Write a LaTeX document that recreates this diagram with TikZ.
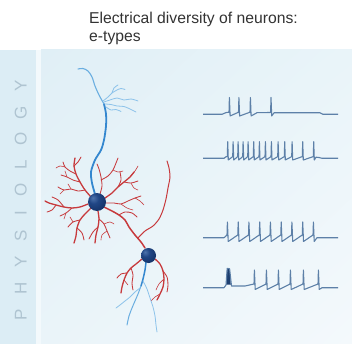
\documentclass[tikz,border=0pt]{standalone}
\usepackage{fontspec}
\setmainfont{Liberation Sans}
\usetikzlibrary{shadings}
\definecolor{bandblue}{HTML}{DCEDF5}
\definecolor{sepblue}{HTML}{F3F9FC}
\definecolor{panelA}{HTML}{E0EFF6}
\definecolor{panelB}{HTML}{E9F4F9}
\definecolor{panelC}{HTML}{EAF4F9}
\definecolor{panelD}{HTML}{F4F9FC}
\definecolor{lettergrey}{HTML}{AFC4D1}
\definecolor{titlegrey}{HTML}{333333}
\definecolor{tracecol}{HTML}{5D80A8}
\definecolor{spikedark}{HTML}{1E3F70}
\definecolor{dendred}{HTML}{C73A3D}
\definecolor{axonA}{HTML}{3487CF}
\definecolor{axonB}{HTML}{6AAEE0}
\definecolor{axonC}{HTML}{8CC2EA}
\definecolor{somahi}{HTML}{4F74AD}
\definecolor{somamid}{HTML}{214685}
\definecolor{somadark}{HTML}{102B5C}
\pgfdeclareradialshading{somaball}{\pgfpoint{-12bp}{12bp}}{color(0bp)=(somahi); color(14bp)=(somamid); color(40bp)=(somadark); color(70bp)=(somadark)}
\begin{document}
\begin{tikzpicture}[x=1pt,y=-1pt,
  trace/.style={draw=tracecol, line width=1.1pt, line join=round},
  dendA/.style={draw=dendred, line width=1.3pt, line cap=round, line join=round},
  dendB/.style={draw=dendred, line width=0.85pt, line cap=round, line join=round},
  twig/.style={draw=dendred, line width=0.6pt, line cap=round, line join=round},
  axonthick/.style={draw=axonA, line width=1.8pt, line cap=round, line join=round},
  axonmid/.style={draw=axonB, line width=1.1pt, line cap=round, line join=round},
  axonfine/.style={draw=axonC, line width=0.8pt, line cap=round, line join=round},
  soma/.style={circle, inner sep=0pt, shading=somaball},
  vletter/.style={rotate=90, text=lettergrey, font=\fontsize{17}{17}\selectfont, inner sep=0pt},
  titletext/.style={anchor=base west, text=titlegrey, font=\fontsize{15.7}{18}\selectfont, inner sep=0pt}]
\useasboundingbox (0,0) rectangle (352,344);

% backgrounds
\fill[white] (0,0) rectangle (352,344);
\fill[bandblue] (0,50) rectangle (36,344);
\fill[sepblue] (36,50) rectangle (41,344);
\shade[upper left=panelA, upper right=panelB, lower left=panelC, lower right=panelD] (41,50) rectangle (352,344);

% title
\node[titletext] (title1) at (89,24) {Electrical diversity of neurons:};
\node[titletext] (title2) at (89,41.7) {e-types};

% side label
\foreach \ch/\yy [count=\i] in {P/315,H/288.5,Y/262,S/236,I/213,O/190,L/165,O/139,G/112.5,Y/86}
  \node[vletter] (side\i) at (20.8,\yy) {\ch};

% ---- neuron 1: blue apical process ----
\draw[axonthick] plot[smooth] coordinates {(95,194) (92,183) (91,172) (95,160) (101,150) (104,140) (106,126) (106,114) (104,104)};
\draw[axonmid] plot[smooth] coordinates {(104,104) (99,95) (95,86) (92,77) (88,71) (83,68.5) (78,69)};
\draw[axonfine] plot[smooth] coordinates {(103,101) (108,97) (112,93) (117,90) (121,88.5) (125,89.5)};
\draw[axonfine] plot[smooth] coordinates {(104,102) (110,100) (117,98) (124,100) (131,99) (138,101)};
\draw[axonfine] plot[smooth] coordinates {(105,104) (111,104.5) (117,106) (124,106.5) (130,109) (136,112)};
\draw[axonfine] plot[smooth] coordinates {(106,107) (111,110) (116,109.5) (121,111.5)};
\draw[axonfine] plot[smooth] coordinates {(112,93) (114,88) (118,85)};

% ---- neuron 1: red dendrites ----
\draw[dendA] plot[smooth] coordinates {(91,197) (85,190) (80,182) (76,174) (74,166) (75,158)};
\draw[dendB] plot[smooth] coordinates {(80,182) (73,180) (67,177) (61,175)};
\draw[dendB] plot[smooth] coordinates {(76,174) (70,171) (65,167) (63,162)};
\draw[dendB] plot[smooth] coordinates {(74,166) (78,162) (81,157)};
\draw[dendB] plot[smooth] coordinates {(85,190) (78,191) (71,189) (64,190) (58,187)};
\draw[twig] plot[smooth] coordinates {(67,177) (65,171)};
\draw[twig] plot[smooth] coordinates {(71,189) (68,184)};
\draw[twig] plot[smooth] coordinates {(64,190) (60,194)};
\draw[twig] plot[smooth] coordinates {(65,167) (60,166) (56,168)};
\draw[dendB] plot[smooth] coordinates {(100,194) (102,186) (101,177) (99,169) (97,164)};
\draw[dendB] plot[smooth] coordinates {(101,180) (108,176) (113,170) (116,163) (118,158)};
\draw[twig] plot[smooth] coordinates {(113,170) (118,172) (123,171)};
\draw[dendA] plot[smooth] coordinates {(105,198) (112,193) (118,187) (124,182) (130,177) (134,172)};
\draw[dendB] plot[smooth] coordinates {(118,187) (121,180) (120,172)};
\draw[dendB] plot[smooth] coordinates {(124,182) (131,183) (138,181)};
\draw[twig] plot[smooth] coordinates {(130,177) (135,171) (138,166)};
\draw[twig] plot[smooth] coordinates {(131,183) (134,188) (138,190)};
\draw[dendB] plot[smooth] coordinates {(106,203) (114,203) (121,204) (128,201) (135,198) (141,196)};
\draw[twig] plot[smooth] coordinates {(121,204) (127,208) (133,210)};
\draw[twig] plot[smooth] coordinates {(135,198) (140,201) (144,205)};
\draw[dendA] plot[smooth] coordinates {(98,211) (99,219) (98,227) (96,235) (95,243)};
\draw[dendB] plot[smooth] coordinates {(99,219) (104,224) (107,231) (110,238)};
\draw[dendB] plot[smooth] coordinates {(98,227) (93,232) (89,239)};
\draw[twig] plot[smooth] coordinates {(104,224) (110,222) (114,224)};
\draw[twig] plot[smooth] coordinates {(107,231) (102,235) (101,240)};
\draw[dendA] plot[smooth] coordinates {(91,208) (85,214) (80,220) (77,228) (76,236) (74,243)};
\draw[dendB] plot[smooth] coordinates {(80,220) (73,222) (68,227)};
\draw[dendB] plot[smooth] coordinates {(77,228) (82,233) (84,240)};
\draw[twig] plot[smooth] coordinates {(73,222) (70,217)};
\draw[dendA] plot[smooth] coordinates {(88,204) (80,207) (72,208) (64,207) (56,205) (49,203) (45,201)};
\draw[dendB] plot[smooth] coordinates {(72,208) (66,213) (60,216)};
\draw[dendB] plot[smooth] coordinates {(64,207) (58,200) (52,197)};
\draw[dendB] plot[smooth] coordinates {(56,205) (52,210) (47,212)};
\draw[twig] plot[smooth] coordinates {(66,213) (64,219)};

% link between the two cells and the long ascending dendrite
\draw[dendA, line width=1.5pt] plot[smooth] coordinates {(104,207) (112,211) (119,215) (125,220) (129,227) (135,235) (141,242) (145,248)};
\draw[dendB] plot[smooth] coordinates {(119,215) (125,212) (132,213) (137,217)};
\draw[dendB, line width=1pt] plot[smooth] coordinates {(138,238) (145,231) (153,226) (159,219) (163,210) (166,199) (168,188) (170,177) (169,168) (167,161)};

% ---- neuron 2: red dendrites ----
\draw[dendA] plot[smooth] coordinates {(142,259) (136,264) (131,268) (127,273) (124,280) (122,287) (121,293)};
\draw[dendB] plot[smooth] coordinates {(131,268) (133,275) (132,283) (133,290)};
\draw[dendB] plot[smooth] coordinates {(127,273) (121,274) (117,278)};
\draw[twig] plot[smooth] coordinates {(124,280) (128,285)};
\draw[dendA] plot[smooth] coordinates {(155,259) (160,264) (163,271) (164,279) (163,287) (160,294) (157,300)};
\draw[dendB] plot[smooth] coordinates {(163,271) (167,277) (168,285) (167,292)};
\draw[twig] plot[smooth] coordinates {(164,279) (159,284) (156,290)};
\draw[twig] plot[smooth] coordinates {(160,294) (155,297) (151,301)};

% ---- neuron 2: blue axon ----
\draw[axonthick, line width=1.5pt] plot[smooth] coordinates {(146,262) (145,270) (143,279) (141,286)};
\draw[axonmid, line width=1pt] plot[smooth] coordinates {(141,286) (138,294) (135,301) (132,308) (129,316) (127,325)};
\draw[axonfine] plot[smooth] coordinates {(140,288) (135,292) (130,297) (125,301) (120,305) (116,308)};
\draw[axonfine] plot[smooth] coordinates {(143,281) (147,289) (150,298) (153,307) (155,316) (156,325) (157,332)};

% cell bodies
\node[soma, minimum size=18pt] (soma1) at (97,202) {};
\node[soma, minimum size=15pt] (soma2) at (148.5,255.5) {};

% ---- voltage traces ----
\draw[trace] (203,114.3) -- (222,114.3) -- (226,112.6)
  foreach \s in {229,238.5,250} { -- (\s,112.2) -- (\s+0.4,97.5) -- (\s+1.1,116) }
  -- (257,112.7) -- (270.6,112.5) -- (271,97.5) -- (271.7,116) -- (274,112.8)
  -- (320,112.8) -- (323,114.3) -- (338,114.3);

\draw[trace] (203,158.3) -- (224,158.3) -- (226,156.8)
  foreach \s in {227.3,232.7,237.7,242.7,247.7,253.3,259,265,271,277.7,284.3,291.7,302.3,313.3}
    { -- (\s,156.6) -- (\s+0.4,141.7) -- (\s+1,160) }
  -- (316,157.2) -- (319,157.5) -- (322,158.3) -- (338,158.3);

\draw[trace] (203,237.7) -- (224,237.7) -- (226.5,235.5)
  foreach \s in {227,237.8,248.5,259.3,270,280.8,291.5,302.3,313}
    { -- (\s,235) -- (\s+0.4,222) -- (\s+1.2,241.5) }
  -- (317,237.7) -- (338,237.7);

\fill[spikedark] (226.2,284.5) -- (227.2,268.3) -- (229.6,268.8) -- (230.8,284.5) -- cycle;
\draw[trace] (203,287.7) -- (224,287.7) -- (226,285) -- (227.2,268.3) -- (229.6,268.8)
  -- (231.5,286) -- (245,286)
  foreach \s in {254,266,278,290,303,318} { -- (\s,284) -- (\s+0.4,270) -- (\s+1.2,289.5) }
  -- (322,287.7) -- (338,287.7);
\end{tikzpicture}
\end{document}
